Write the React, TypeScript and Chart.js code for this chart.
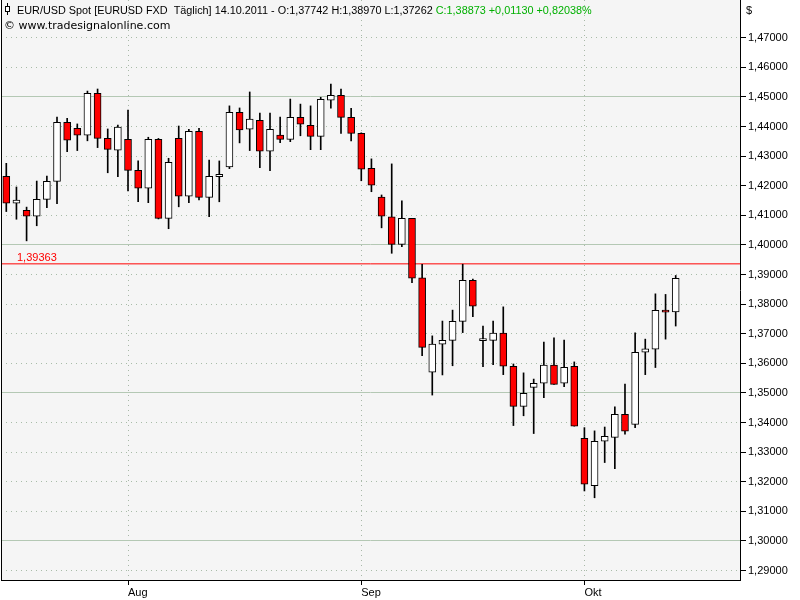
import { useEffect, useRef } from "react";
import { Chart, registerables } from "chart.js";

Chart.register(...registerables);

// OHLC candles, 14 Jul 2011 .. 14 Oct 2011 (index = trading day)
const opens = [
  1.4232, 1.4141, 1.4117, 1.4097, 1.4154, 1.4215, 1.4414, 1.4394, 1.4371, 1.4512,
  1.4360, 1.4320, 1.4357, 1.4252, 1.4192, 1.4357, 1.4090, 1.4360, 1.4165, 1.4384,
  1.4161, 1.4231, 1.4264, 1.4448, 1.4391, 1.4421, 1.4317, 1.4371, 1.4357, 1.4431,
  1.4404, 1.4367, 1.4489, 1.4506, 1.4431, 1.4377, 1.4259, 1.4162, 1.4095, 1.4002,
  1.4090, 1.3889, 1.3570, 1.3665, 1.3678, 1.3742, 1.3881, 1.3677, 1.3678, 1.3702,
  1.3590, 1.3455, 1.3519, 1.3533, 1.3594, 1.3533, 1.3590, 1.3347, 1.3187, 1.3337,
  1.3350, 1.3428, 1.3394, 1.3638, 1.3648, 1.3779, 1.37742,
];
const highs = [
  1.4276, 1.4196, 1.4128, 1.4216, 1.4233, 1.4432, 1.4428, 1.4409, 1.4520, 1.4527,
  1.4392, 1.4405, 1.4456, 1.4284, 1.4364, 1.4360, 1.4293, 1.4402, 1.4391, 1.4394,
  1.4287, 1.4284, 1.4470, 1.4463, 1.4517, 1.4446, 1.4446, 1.4432, 1.4493, 1.4476,
  1.4470, 1.4499, 1.4544, 1.4527, 1.4462, 1.4379, 1.4291, 1.4169, 1.4274, 1.4149,
  1.4090, 1.3935, 1.3693, 1.3743, 1.3780, 1.3935, 1.3885, 1.3726, 1.3743, 1.3791,
  1.3598, 1.3568, 1.3547, 1.3672, 1.3686, 1.3679, 1.3605, 1.3383, 1.3372, 1.3385,
  1.3453, 1.3530, 1.3703, 1.3682, 1.3835, 1.3833, 1.38970,
];
const lows = [
  1.4113, 1.4087, 1.4014, 1.4065, 1.4126, 1.4140, 1.4315, 1.4319, 1.4352, 1.4329,
  1.4244, 1.4231, 1.4183, 1.4146, 1.4143, 1.4088, 1.4055, 1.4129, 1.4143, 1.4152,
  1.4096, 1.4146, 1.4258, 1.4345, 1.4319, 1.4261, 1.4251, 1.4346, 1.4349, 1.4369,
  1.4322, 1.4322, 1.4462, 1.4377, 1.4352, 1.4217, 1.4180, 1.4058, 1.3972, 1.3994,
  1.3873, 1.3626, 1.3493, 1.3561, 1.3592, 1.3704, 1.3758, 1.3589, 1.3596, 1.3562,
  1.3390, 1.3423, 1.3363, 1.3484, 1.3529, 1.3521, 1.3388, 1.3169, 1.3146, 1.3265,
  1.3244, 1.3361, 1.3383, 1.3562, 1.3586, 1.3682, 1.37262,
];
const closes = [
  1.4141, 1.4152, 1.4097, 1.4154, 1.4215, 1.4414, 1.4354, 1.4371, 1.4512, 1.4360,
  1.4323, 1.4398, 1.4252, 1.4192, 1.4357, 1.4090, 1.4279, 1.4165, 1.4384, 1.4161,
  1.4232, 1.4239, 1.4448, 1.4389, 1.4425, 1.4317, 1.4391, 1.4357, 1.4431, 1.4408,
  1.4367, 1.4492, 1.4506, 1.4431, 1.4377, 1.4256, 1.4202, 1.4097, 1.4002, 1.4090,
  1.3888, 1.3654, 1.3665, 1.3678, 1.3742, 1.3881, 1.3793, 1.3677, 1.3702, 1.3591,
  1.3455, 1.3499, 1.3533, 1.3594, 1.3529, 1.3587, 1.3388, 1.3192, 1.3337, 1.3354,
  1.3428, 1.3371, 1.3637, 1.3649, 1.3779, 1.3773, 1.38873,
];

const monthTickIndex = [12, 35, 57];
const monthTickLabels = ["Aug", "Sep", "Okt"];
const yTickValues = [
  1.29, 1.3, 1.31, 1.32, 1.33, 1.34, 1.35, 1.36, 1.37, 1.38,
  1.39, 1.4, 1.41, 1.42, 1.43, 1.44, 1.45, 1.46, 1.47,
];
const refLevel = 1.39363;
const refLabel = "1,39363";
const headerBlack =
  "EUR/USD Spot [EURUSD FXD  T\u00e4glich] 14.10.2011 - O:1,37742 H:1,38970 L:1,37262 ";
const headerGreen = "C:1,38873 +0,01130 +0,82038%";
const sourceText = "\u00a9 www.tradesignalonline.com";
const currencyLabel = "$";

const X_MIN = -0.5226;
const X_MAX = 72.34;
const Y_MIN = 1.28682;
const Y_MAX = 1.48277;
const FONT = '"Liberation Sans", Arial, sans-serif';
const FONT2 = '"DejaVu Sans", sans-serif';

const isMajor = (v: number) => Math.round(v * 100) % 5 === 0;

const decor = {
  id: "decor",
  beforeDraw(chart: any) {
    const { ctx, chartArea: a } = chart;
    ctx.save();
    ctx.fillStyle = "#ffffff";
    ctx.fillRect(0, 0, chart.width, chart.height);
    ctx.fillStyle = "#f5f5f5";
    ctx.fillRect(a.left, a.top, a.right - a.left, a.bottom - a.top);
    ctx.restore();
  },
  afterDraw(chart: any) {
    const { ctx, chartArea: a, scales } = chart;
    ctx.save();
    ctx.strokeStyle = "#000";
    ctx.lineWidth = 1;
    ctx.beginPath();
    ctx.moveTo(a.left + 0.5, a.top);
    ctx.lineTo(a.left + 0.5, a.bottom);
    ctx.stroke();
    // small candle icon
    ctx.beginPath();
    ctx.moveTo(7.5, 3);
    ctx.lineTo(7.5, 15);
    ctx.stroke();
    ctx.fillStyle = "#fff";
    ctx.fillRect(5.5, 6.5, 4, 5);
    ctx.strokeRect(5.5, 6.5, 4, 5);

    ctx.font = `10.85px ${FONT}`;
    ctx.textBaseline = "alphabetic";
    ctx.textAlign = "left";
    ctx.fillStyle = "#000";
    ctx.fillText(headerBlack, 17, 14);
    const w = ctx.measureText(headerBlack).width;
    ctx.fillStyle = "#00b000";
    ctx.fillText(headerGreen, 17 + w, 14);
    ctx.fillStyle = "#000";
    ctx.font = `11px ${FONT}`;
    ctx.fillText(currencyLabel, a.right + 6, 14);
    ctx.font = `11px ${FONT2}`;
    ctx.fillText(sourceText, 4, 29);
    const yRef = scales.y.getPixelForValue(refLevel);
    ctx.font = `11px ${FONT}`;
    ctx.fillStyle = "#ff0000";
    ctx.fillText(refLabel, 17, yRef - 3);
    ctx.restore();
  },
};

export default function App() {
  const ref = useRef<HTMLCanvasElement>(null);
  useEffect(() => {
    document.body.style.margin = "0";
    const canvas = ref.current!;
    const idx = opens.map((_, i) => i);
    const chart = new Chart(canvas, {
      type: "bar",
      data: {
        datasets: [
          {
            type: "line",
            data: [
              { x: X_MIN, y: refLevel },
              { x: X_MAX, y: refLevel },
            ],
            borderColor: "#ff0000",
            borderWidth: 1,
            pointRadius: 0,
            order: 5,
          } as any,
          {
            data: idx.map((i) => ({ x: i, y: [lows[i], highs[i]] })),
            backgroundColor: "#000",
            borderWidth: 0,
            barThickness: 1,
            grouped: false,
            order: 3,
          } as any,
          {
            data: idx.map((i) => ({ x: i, y: [opens[i], closes[i]] })),
            backgroundColor: idx.map((i) => (closes[i] < opens[i] ? "#ff0000" : "#ffffff")),
            borderColor: "#000",
            borderWidth: 1,
            borderSkipped: false,
            barThickness: 7,
            minBarLength: 2,
            grouped: false,
            order: 1,
          } as any,
        ],
      },
      options: {
        responsive: false,
        animation: false,
        devicePixelRatio: 1,
        events: [],
        layout: { padding: { left: 1, top: 0, right: 0, bottom: 0 } },
        plugins: { legend: { display: false }, tooltip: { enabled: false } },
        scales: {
          x: {
            type: "linear",
            position: "bottom",
            min: X_MIN,
            max: X_MAX,
            offset: false,
            afterBuildTicks: (s: any) => {
              s.ticks = monthTickIndex.map((v) => ({ value: v }));
            },
            afterFit: (s: any) => {
              s.height = 20;
              s.paddingLeft = 0;
              s.paddingRight = 0;
            },
            ticks: {
              autoSkip: false,
              maxRotation: 0,
              align: "start",
              padding: 1,
              color: "#000",
              font: { family: FONT, size: 11 },
              callback: (_v: any, i: number) => monthTickLabels[i],
            },
            grid: {
              offset: false,
              color: "#a8b8a8",
              lineWidth: 1,
              tickLength: 5,
              tickColor: "#000",
            },
            border: {
              color: "#000",
              width: 1,
              dash: (ctx: any) => (ctx.type === "tick" ? [1, 4] : []),
            },
          },
          y: {
            type: "linear",
            position: "right",
            min: Y_MIN,
            max: Y_MAX,
            afterBuildTicks: (s: any) => {
              s.ticks = yTickValues.map((v) => ({ value: v }));
            },
            afterFit: (s: any) => {
              s.width = 60;
              s.paddingTop = 0;
              s.paddingBottom = 0;
            },
            ticks: {
              autoSkip: false,
              padding: 2,
              color: "#000",
              font: { family: FONT, size: 11 },
              callback: (v: any) => Number(v).toFixed(5).replace(".", ","),
            },
            grid: {
              color: (ctx: any) =>
                ctx.tick && isMajor(ctx.tick.value) ? "#b4c8b4" : "#a8bca8",
              lineWidth: 1,
              tickLength: 6,
              tickColor: "#000",
            },
            border: {
              color: "#000",
              width: 1,
              dash: (ctx: any) =>
                ctx.type === "tick" && ctx.tick && !isMajor(ctx.tick.value) ? [1, 4] : [],
            },
          },
        },
      } as any,
      plugins: [decor],
    });
    return () => chart.destroy();
  }, []);
  return (
    <div style={{ position: "fixed", left: 0, top: 0, width: 800, height: 600, background: "#fff" }}>
      <canvas ref={ref} width={800} height={600} style={{ display: "block", width: 800, height: 600 }} />
    </div>
  );
}
